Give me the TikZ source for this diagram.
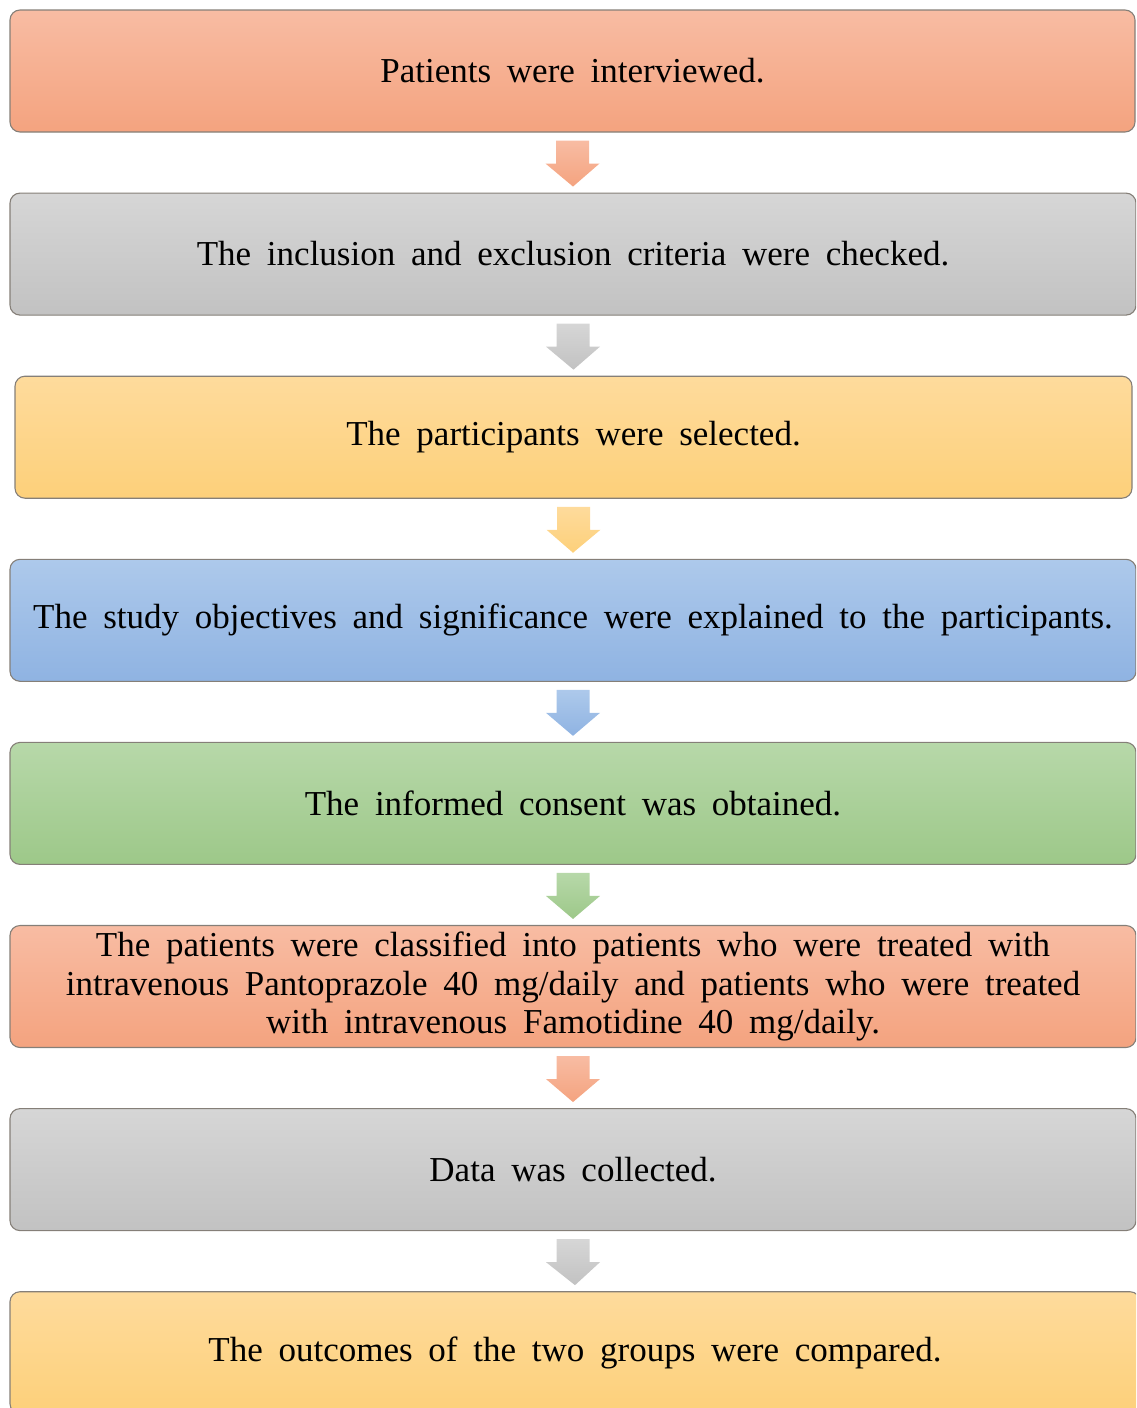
\documentclass[tikz,border=0pt]{standalone}
\usepackage{fontspec}
\setmainfont{Liberation Serif}[WordSpace=1.8]
\usetikzlibrary{calc}
\definecolor{orT}{HTML}{F8BCA3}\definecolor{orB}{HTML}{F4A37F}
\definecolor{grT}{HTML}{D6D6D6}\definecolor{grB}{HTML}{C2C2C2}
\definecolor{yeT}{HTML}{FEDB9C}\definecolor{yeB}{HTML}{FDD07A}
\definecolor{blT}{HTML}{ADC9EB}\definecolor{blB}{HTML}{8FB3E2}
\definecolor{gnT}{HTML}{B7D8A9}\definecolor{gnB}{HTML}{9DC889}
\definecolor{edge}{HTML}{857F78}
\tikzset{
  flowbox/.style={draw=edge, line width=1.1pt, rounded corners=10pt, minimum height=122pt,
    inner sep=0pt, align=center, font=\fontsize{35}{38.5}\selectfont},
  orfill/.style={top color=orT, bottom color=orB},
  grfill/.style={top color=grT, bottom color=grB},
  yefill/.style={top color=yeT, bottom color=yeB},
  blfill/.style={top color=blT, bottom color=blB},
  gnfill/.style={top color=gnT, bottom color=gnB},
}
\newcommand\flowarrow[3]{%
  \path[#3] ($(#1.south)+(-16.5,-8)$) -- ($(#1.south)+(16.5,-8)$) -- ($(#1.south)+(16.5,-31)$)
    -- ($(#1.south)+(27,-31)$) -- ($(#2.north)+(0,6)$) -- ($(#1.south)+(-27,-31)$)
    -- ($(#1.south)+(-16.5,-31)$) -- cycle;}
\begin{document}
\begin{tikzpicture}[x=1pt,y=1pt]
\clip (0,0) rectangle (1136,-1408);
\node[flowbox, orfill, minimum width=1125pt] (b1) at (572.5,-71) {Patients were interviewed.};
\node[flowbox, grfill, minimum width=1126pt] (b2) at (573,-254.1) {The inclusion and exclusion criteria were checked.};
\node[flowbox, yefill, minimum width=1117pt] (b3) at (573.5,-437.2) {The participants were selected.};
\node[flowbox, blfill, minimum width=1126pt] (b4) at (573,-620.3) {The study objectives and significance were explained to the participants.};
\node[flowbox, gnfill, minimum width=1126pt] (b5) at (573,-803.4) {The informed consent was obtained.};
\node[flowbox, orfill, minimum width=1126pt] (b6) at (573,-986.5) {\raisebox{-2pt}{\parbox{1100pt}{\centering The patients were classified into patients who were treated with\\intravenous Pantoprazole 40 mg/daily and patients who were treated\\with intravenous Famotidine 40 mg/daily.}}};
\node[flowbox, grfill, minimum width=1126pt] (b7) at (573,-1169.6) {Data was collected.};
\node[flowbox, yefill, minimum width=1130pt] (b8) at (575,-1352.7) {The outcomes of the two groups were compared.};
\flowarrow{b1}{b2}{orfill}
\flowarrow{b2}{b3}{grfill}
\flowarrow{b3}{b4}{yefill}
\flowarrow{b4}{b5}{blfill}
\flowarrow{b5}{b6}{gnfill}
\flowarrow{b6}{b7}{orfill}
\flowarrow{b7}{b8}{grfill}
\end{tikzpicture}
\end{document}
